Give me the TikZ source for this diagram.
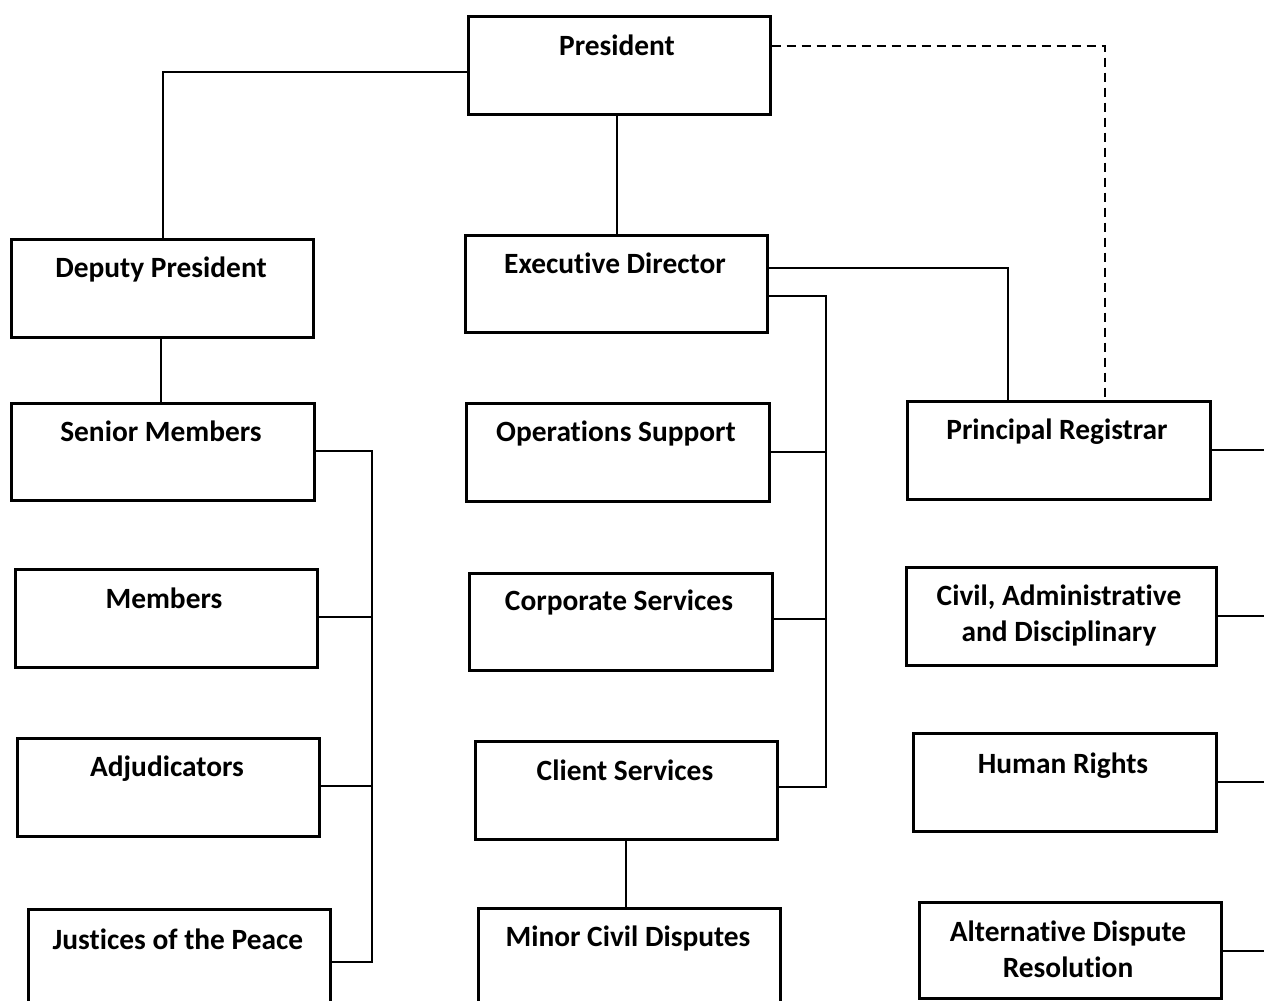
\documentclass[tikz,border=0pt]{standalone}
\usepackage{fontspec}
\setmainfont[Ligatures=NoCommon]{Carlito}
\usetikzlibrary{calc}
\begin{document}
\begin{tikzpicture}[x=1pt,y=-1pt,
  box/.style={draw=black, line width=2.6pt, inner sep=0pt, anchor=north west, minimum width=302pt, minimum height=98pt},
  lbl/.style={font=\fontsize{29.4}{35.5}\selectfont\bfseries, inner sep=0pt, anchor=base, align=center},
  conn/.style={draw=black, line width=2.2pt},
  dconn/.style={conn, dash pattern=on 9pt off 6pt}]
\useasboundingbox (0,0) rectangle (1264,1001);
\clip (0,0) rectangle (1264,1001);
% boxes
\node[box] (pres) at (467,15) {};
\node[box] (dep) at (10,238) {};
\node[box, minimum height=97pt] (exec) at (464,234) {};
\node[box, minimum width=303pt, minimum height=97pt] (senior) at (10,402) {};
\node[box, minimum width=303pt] (ops) at (465,402) {};
\node[box, minimum width=303pt] (pr) at (906,400) {};
\node[box] (mem) at (14,568) {};
\node[box, minimum width=303pt, minimum height=97pt] (corp) at (468,572) {};
\node[box, minimum width=310pt] (cad) at (905,566) {};
\node[box] (adj) at (16,737) {};
\node[box] (client) at (474,740) {};
\node[box, minimum width=303pt] (hr) at (912,732) {};
\node[box, minimum height=130pt] (jp) at (27,908) {};
\node[box, minimum height=130pt] (minor) at (477,907) {};
\node[box, minimum height=96pt] (adr) at (918,901) {};
% labels
\node[lbl] (presT) at (617,55) {President};
\node[lbl] (depT) at (161,277) {Deputy President};
\node[lbl] (execT) at (615,273) {Executive Director};
\node[lbl] (seniorT) at (161,441) {Senior Members};
\node[lbl] (opsT) at (616,441) {Operations Support};
\node[lbl] (prT) at (1057,439) {Principal Registrar};
\node[lbl] (memT) at (164,608) {Members};
\node[lbl] (corpT) at (619,610) {Corporate Services};
\node[lbl] (cadT) at (1059,641) {Civil, Administrative\\and Disciplinary};
\node[lbl] (adjT) at (167,776) {Adjudicators};
\node[lbl] (clientT) at (625,780) {Client Services};
\node[lbl] (hrT) at (1063,773) {Human Rights};
\node[lbl] (jpT) at (178,949) {Justices of the Peace};
\node[lbl] (minorT) at (628,946) {Minor Civil Disputes};
\node[lbl] (adrT) at (1068,977) {Alternative Dispute\\Resolution};
% edge coordinates on the right
\coordinate (e1) at (1264,450);
\coordinate (e2) at (1264,616);
\coordinate (e3) at (1264,782);
\coordinate (e4) at (1264,951);
% connectors
\draw[conn] (pres.west |- 0,72) -| (dep.north -| 163,0);
\draw[conn] (pres.south -| 617,0) -- (exec.north -| 617,0);
\draw[dconn] (pres.east |- 0,46) -| (pr.north -| 1105,0);
\draw[conn] (exec.east |- 0,268) -| (pr.north -| 1008,0);
\draw[conn] (exec.east |- 0,296) -| (826,787) -- (client.east |- 0,787);
\draw[conn] (ops.east |- 0,452) -- (826,452);
\draw[conn] (corp.east |- 0,619) -- (826,619);
\draw[conn] (dep.south -| 161,0) -- (senior.north -| 161,0);
\draw[conn] (senior.east |- 0,451) -| (372,962) -- (jp.east |- 0,962);
\draw[conn] (mem.east |- 0,617) -- (372,617);
\draw[conn] (adj.east |- 0,786) -- (372,786);
\draw[conn] (client.south -| 626,0) -- (minor.north -| 626,0);
\draw[conn] (pr.east |- 0,450) -- (e1);
\draw[conn] (cad.east |- 0,616) -- (e2);
\draw[conn] (hr.east |- 0,782) -- (e3);
\draw[conn] (adr.east |- 0,951) -- (e4);
\end{tikzpicture}
\end{document}
